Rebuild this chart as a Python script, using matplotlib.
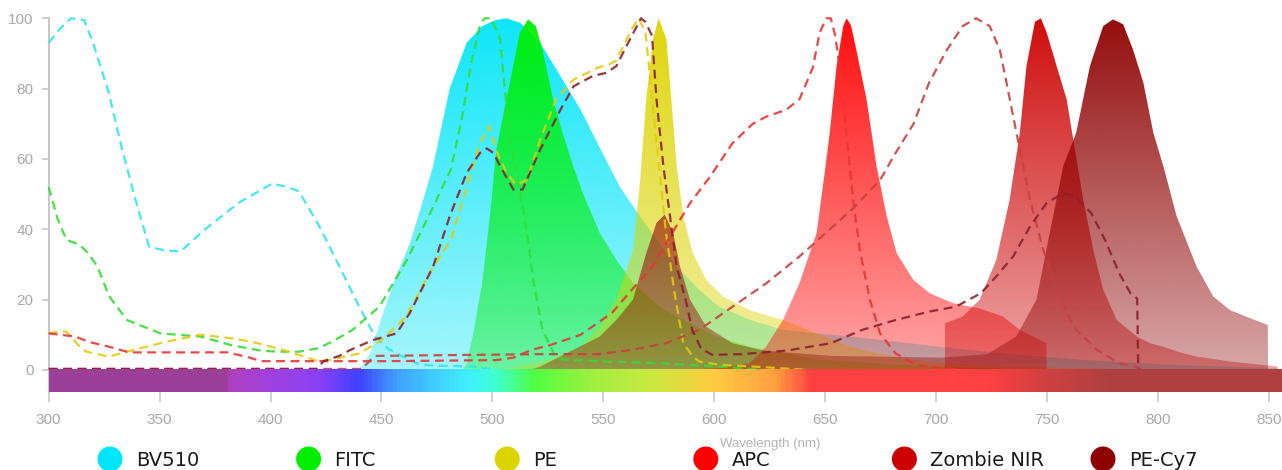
import numpy as np
import matplotlib.pyplot as plt
from matplotlib.colors import LinearSegmentedColormap, to_rgb
from matplotlib.patches import Polygon, Ellipse

# dye names and colours (legend order)
dyes = ['BV510', 'FITC', 'PE', 'APC', 'Zombie NIR', 'PE-Cy7']
dye_colors = ['#00e5f8', '#00ee00', '#dcd400', '#ff0000', '#cc0000', '#8e0000']
ex_colors = ['#2ee6f2', '#33dd33', '#e0cc10', '#e83434', '#c84040', '#8b2030']

# excitation spectra (dashed)
bv510_ex_wl = [300, 305, 310, 316, 320, 327, 333, 339.3, 345.3, 352.4, 359.4, 370.5, 385.6, 400.7,
               407.8, 412.8, 421.9, 431, 440, 447.1, 453.1, 458.2, 467.2, 476.3, 491.4, 501.5]
bv510_ex = [93, 97, 100, 99.5, 93, 79, 63, 48, 35, 34, 33.7, 40, 47.5, 53,
            52, 50.8, 41, 29.5, 18, 9.5, 6, 4.3, 1.5, 1.2, 1, 0]

fitc_ex_wl = [300, 304, 308, 314, 318, 322, 327.2, 335.3, 350.4, 368.5, 382.6, 395.7, 402.8, 412.8,
              421.9, 429, 437, 449.1, 461.2, 471.3, 481.3, 486.4, 490.4, 494.4, 496.5, 499.5, 503.5,
              507.5, 511.6, 515.6, 518.6, 522.6, 527.7, 531.7, 546.8, 572, 602.2, 622.4]
fitc_ex = [52, 43, 37, 35.6, 33, 29.4, 21, 14.2, 10.4, 9.5, 7, 5.5, 5.2, 5.2,
           6.2, 8.5, 11.4, 18, 31, 43.7, 57, 72, 87, 98, 100, 100, 94,
           67, 54, 39, 25, 11.4, 4.7, 3, 2.5, 2, 1, 0]

pe_ex_wl = [300, 305, 308, 314, 317, 327.2, 338.3, 353.4, 368.5, 382.6, 391.7, 402.8, 412.8, 421.9,
            431, 440, 450.1, 461.2, 473.3, 481.3, 488.4, 494.4, 498.5, 501.5, 506.5, 510.6, 515.6,
            521.6, 528.7, 536.7, 547.8, 552.9, 555.9, 562.9, 566, 569, 570.5, 574, 578.1, 582.1,
            586.1, 590.2, 593.2, 602.2, 622.4, 642.5]
pe_ex = [10.4, 11, 10.9, 6.6, 5.2, 3.8, 5.7, 8.1, 10, 9, 8, 6.2, 4.3, 2.4,
         3.4, 4.7, 8.5, 15.2, 29.4, 37, 52, 64.6, 69.3, 62.7, 56, 52.7, 54,
         65.5, 77, 82.6, 86, 87, 88, 97, 100, 96, 87, 65, 40, 22,
         7.6, 4, 2.4, 1.5, 0.8, 0]

apc_ex_wl = [300, 312, 318, 327.2, 336.3, 380.6, 390.7, 395.7, 451.1, 501.5, 509.5, 517.6, 525.7,
             539.8, 553.9, 562.9, 572, 581.1, 589.1, 598.2, 608.3, 617.4, 623.4, 632.5, 638.5,
             644.5, 647.6, 650.6, 652.6, 654.6, 656.6, 659.7, 662.7, 665.7, 670.2, 674.8, 681.8,
             689.9, 696.9, 713]
apc_ex = [10.4, 9.5, 8, 6.6, 5, 5, 3.5, 2.5, 2.5, 2.8, 3.5, 5.7, 7,
          10, 16.2, 22.8, 29.4, 39, 47.4, 55, 64.5, 70, 72, 74, 77,
          86, 96, 100, 100, 95, 86, 67, 48, 34, 20, 10.4, 4.7,
          1.9, 0.9, 0]

zombie_ex_wl = [300, 441, 447.1, 521.6, 547.8, 562.9, 578.1, 593.2, 608.3, 623.4, 638.5, 653.6,
                662.7, 674.8, 681.8, 689.9, 696.9, 704.9, 712.1, 718.1, 724.2, 728.8, 731.8, 736.3,
                742.4, 748.4, 754.5, 761.9, 772.6, 782.6, 790.1, 793.6]
zombie_ex = [0.3, 0.3, 4, 4.5, 4.5, 5.7, 7.6, 11.4, 18, 24.6, 32.3, 40.8,
             46, 54, 61.7, 70, 81.7, 91, 97.8, 100, 97.8, 91, 81.7, 67.4,
             48.4, 34, 22.8, 12.3, 5.7, 1.9, 0.9, 0]

pecy7_ex_wl = [300, 420.9, 423.9, 431, 436, 446.1, 456.8, 462.8, 473.3, 480.8, 488.4, 494.4, 497.5,
               500.5, 503.5, 509.5, 513.6, 521.6, 530.7, 536.7, 545.3, 551.4, 555.9, 560.4, 567,
               569, 572, 574, 577.1, 580.1, 583.1, 587.1, 590.1, 594.2, 599.2, 612.3, 632.5,
               652.6, 666.7, 681.8, 696.9, 709, 720.2, 727.2, 734.8, 742.4, 749.9, 757.5, 762.5,
               770, 776.2, 782.6, 787.7, 790.7, 791.2]
pecy7_ex = [0.3, 0.3, 2.5, 4, 5.7, 8.5, 10.4, 16.2, 29.4, 43.7, 56, 61.7, 63,
            61.7, 58, 51.3, 51.3, 62.7, 74, 80.7, 83.6, 84.5, 86.4, 92, 100,
            99, 95, 77, 58, 43.7, 29.4, 20, 11.4, 6, 4.3, 4.5, 5.5,
            7.6, 11.4, 14.2, 16.6, 18, 21.8, 26.6, 32.3, 40.8, 47.5, 50.3, 49.4,
            44.6, 37, 27.5, 21.8, 20.3, 0]

# emission spectra (filled)
bv510_em_wl = [431, 440, 445.1, 450.6, 456.2, 462.8, 468.2, 473.3, 480.8, 488.4, 495.5, 501.5,
               506.5, 512.6, 521.6, 530.7, 539.8, 548.8, 557.4, 566.5, 575.4, 583.1, 593.2, 602.2,
               616.3, 631, 646.2, 661.2, 682.8, 703, 733.2, 763.5, 803.7, 854]
bv510_em = [0, 0.3, 5, 16, 26, 36, 47, 58, 80, 93, 97.8, 99.5,
            100, 98.7, 93, 83.6, 74, 62.7, 52.2, 43.7, 36, 29.4, 22.8, 18,
            14.2, 11.4, 10.4, 9.5, 8, 6.5, 4.5, 3, 1.5, 0.5]

fitc_em_wl = [486.4, 488.4, 491.4, 495.4, 498.9, 501.8, 506.3, 509.4, 512.4, 516.1, 519.6, 522.6,
              527.4, 531.7, 536.4, 540.8, 548.4, 555.9, 563.5, 575.4, 586.1, 601.2, 616.3, 631,
              646.2, 682.8, 723.1, 753.3]
fitc_em = [0, 1.9, 10.4, 24.7, 43.7, 62.7, 77, 86.4, 95.9, 99.7, 97.8, 91,
           77, 67.4, 58, 50.3, 39, 31.3, 24.7, 18, 14.2, 9.5, 6.6, 4.9,
           3, 1.5, 0.5, 0]

pe_em_wl = [501.5, 511.6, 525.7, 539.8, 548.4, 555.9, 563.4, 566.5, 569.4, 572.4, 575, 578.5,
            580.7, 583.1, 586.1, 590.4, 596.5, 604, 616, 631, 646.2, 661.2, 682.8, 703, 733.2,
            763.5, 803.7]
pe_em = [0, 1, 2.8, 6.6, 12.3, 20, 34, 53, 77, 94, 100, 94,
         77, 58, 43.7, 33.2, 25.6, 20.9, 17, 14.2, 10.4, 6.6, 3.5, 2, 1,
         0.5, 0]

apc_em_wl = [582.1, 602.2, 616, 623.4, 631, 638.5, 646.2, 649.6, 652.1, 655.2, 658.2, 659.7,
             661.7, 664.1, 668.7, 673.2, 677.8, 682.3, 689.8, 697.2, 707.7, 719.7, 730.2, 737.8,
             749.8, 749.9]
apc_em = [0, 0.5, 1.9, 6.6, 14.2, 24.7, 39, 55, 67.4, 86.4, 97.8, 100,
          98, 91, 77, 58, 43.7, 33.2, 25.6, 21.8, 19, 17.5, 15.2, 11.4,
          7.6, 0]

zombie_em_wl = [704, 704.1, 712.1, 719.7, 727.2, 733.2, 737.8, 740.8, 744.6, 747.3, 749.9, 754.4,
                758.9, 761.9, 766.4, 771, 775.4, 781.5, 790.6, 796.5, 802.6, 809.9, 817.6, 832.7,
                847.7, 854]
zombie_em = [0, 13.3, 15.2, 20, 31.3, 48.4, 67.4, 86.4, 99, 100, 96, 86.4,
             77, 65.5, 48.4, 34, 22.8, 14.2, 9.5, 7.6, 6.6, 5, 3.8, 2.4,
             1.4, 1]

pecy7_em_wl = [516.6, 521.3, 533.3, 548.4, 555.9, 563.4, 569.4, 574, 577.7, 581.5, 584.6, 589.1,
               596.5, 608.3, 622.4, 652.6, 703, 723.1, 736.2, 745.3, 751.3, 757.4, 763.2, 769.4,
               775.4, 779.8, 784.4, 788.9, 793.5, 798, 802.5, 808.5, 817.5, 825, 832.6, 841.7,
               849.6, 849.7]
pecy7_em = [0, 0.9, 4.7, 9.5, 14.2, 20, 33.2, 41.8, 44.2, 39, 29.4, 20,
            12.3, 7.6, 5.5, 4, 3.5, 4.5, 9.5, 20, 39, 58, 67.4, 86.4,
            97.8, 99.7, 98.3, 91, 81.7, 67.4, 58, 43.7, 29.4, 20.9, 17, 14.7,
            12.8, 0]

ex_data = [(bv510_ex_wl, bv510_ex), (fitc_ex_wl, fitc_ex), (pe_ex_wl, pe_ex),
           (apc_ex_wl, apc_ex), (zombie_ex_wl, zombie_ex), (pecy7_ex_wl, pecy7_ex)]
em_data = [(bv510_em_wl, bv510_em), (fitc_em_wl, fitc_em), (pe_em_wl, pe_em),
           (apc_em_wl, apc_em), (zombie_em_wl, zombie_em), (pecy7_em_wl, pecy7_em)]

# visible spectrum bar colour stops
bar_wl = [300, 379, 381, 399, 421, 438.5, 456, 474, 488.5, 501, 519, 545, 572, 600, 627.5, 644,
          723.5, 749.5, 779, 856]
bar_colors = ['#9b3f98', '#9b3f98', '#b040c0', '#a040e0', '#8a40f5', '#4040ff', '#40a0ff',
              '#40d0ff', '#40f0ff', '#40ffd0', '#50ff40', '#a0f040', '#cce840', '#ffcc40',
              '#ffa040', '#ff4040', '#ff4040', '#d04040', '#b04040', '#b04040']

xmin, xmax = 300, 856
ymin, ymax = -6.35, 100


def grad_fill(ax, wl, val, color, z):
    wl = np.array(wl, dtype=float)
    val = np.array(val, dtype=float)
    verts = np.column_stack([np.r_[wl, wl[::-1]], np.r_[val, np.zeros(len(val))]])
    patch = Polygon(verts, closed=True, fc='none', ec='none')
    ax.add_patch(patch)
    img = np.zeros((256, 1, 4))
    img[..., :3] = to_rgb(color)
    img[:, 0, 3] = np.linspace(0.35, 0.95, 256)
    im = ax.imshow(img, extent=[xmin, xmax, 0, 100], origin='lower', aspect='auto',
                   zorder=z, interpolation='bilinear')
    im.set_clip_path(patch)


def main():
    fig = plt.figure(figsize=(12.82, 4.70), dpi=100)
    fig.patch.set_facecolor('white')
    ax = fig.add_axes([48.7 / 1282, 1 - 392.3 / 470, 1233.3 / 1282, 374 / 470])

    for i in range(len(dyes)):
        grad_fill(ax, em_data[i][0], em_data[i][1], dye_colors[i], 2 + i)
    for i in range(len(dyes)):
        ax.plot(ex_data[i][0], ex_data[i][1], color=ex_colors[i], lw=1.6,
                ls=(0, (4, 2.5)), alpha=0.9, zorder=9, clip_on=False)

    # spectrum bar
    pos = [(w - bar_wl[0]) / (bar_wl[-1] - bar_wl[0]) for w in bar_wl]
    cmap = LinearSegmentedColormap.from_list('vis', list(zip(pos, bar_colors)))
    grad = np.linspace(0, 1, 600).reshape(1, -1)
    ax.imshow(grad, cmap=cmap, extent=[bar_wl[0], bar_wl[-1], ymin, 0], aspect='auto',
              zorder=10, interpolation='bilinear')

    ax.set_xlim(xmin, xmax)
    ax.set_ylim(ymin, ymax)
    for s in ['top', 'right', 'bottom']:
        ax.spines[s].set_visible(False)
    ax.spines['left'].set_color('#c8c8c8')
    ax.spines['left'].set_linewidth(1.5)
    ax.set_xticks(range(300, 851, 50))
    ax.set_yticks(range(0, 101, 20))
    ax.tick_params(axis='x', length=7, width=1.2, color='#c8c8c8', labelcolor='#a8a8a8',
                   labelsize=11, pad=8)
    ax.tick_params(axis='y', length=5, width=1.2, color='#c8c8c8', labelcolor='#a8a8a8',
                   labelsize=11, pad=6)
    for lab in ax.get_xticklabels() + ax.get_yticklabels():
        lab.set_fontfamily('Liberation Sans')

    # legend + axis title drawn in pixel space
    lax = fig.add_axes([0, 0, 1, 1], zorder=-1)
    lax.set_xlim(0, 1282)
    lax.set_ylim(470, 0)
    lax.axis('off')
    lax.text(770, 444, 'Wavelength (nm)', color='#b4b4b4', fontsize=9.5, ha='center',
             va='center', family='Liberation Sans')
    for i, name in enumerate(dyes):
        cx = 110 + i * 198.6
        lax.add_patch(Ellipse((cx, 459), 25, 25, fc=dye_colors[i], ec='none'))
        lax.text(cx + 26, 460, name, fontsize=14, color='#1a1a1a', va='center', ha='left')

    fig.savefig('out.png', dpi=100, facecolor='white')


main()
